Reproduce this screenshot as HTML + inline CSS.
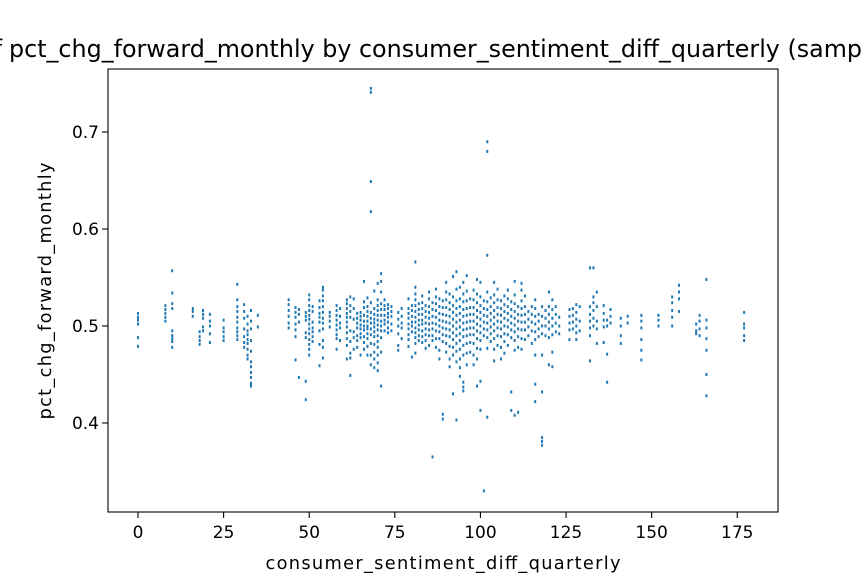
<!DOCTYPE html>
<html><head><meta charset="utf-8">
<style>
html,body{margin:0;padding:0;background:#fff;}
svg{display:block;font-family:"DejaVu Sans","Liberation Sans",sans-serif;}
</style></head>
<body>
<svg id="chart" width="864" height="576" viewBox="0 0 864 576">
<rect width="864" height="576" fill="#fff"/>
<g>
<text x="2" y="57" font-size="23.8" text-anchor="end" fill="#000">Scatter plot of</text>
<text x="9" y="57" font-size="23.8" text-anchor="start" fill="#000">pct_chg_forward_monthly by consumer_sentiment_diff_quarterly (sample)</text>
</g>
<g id="marks"></g>
<rect x="108" y="69" width="670" height="443" fill="none" stroke="#000" stroke-width="1.1"/>
<g id="xaxis"></g>
<g id="yaxis"></g>
<text x="443" y="569" font-size="17.8" text-anchor="middle" textLength="355">consumer_sentiment_diff_quarterly</text>
<text x="0" y="0" font-size="17.8" text-anchor="middle" textLength="257" transform="translate(51,291) rotate(-90)">pct_chg_forward_monthly</text>
</svg>
<script>
const xTicks = [0,25,50,75,100,125,150,175];
const yTicks = [0.4,0.5,0.6,0.7];
const yTickLabels = ["0.4","0.5","0.6","0.7"];
const groupX = [0,8,10,16,18,19,21,25,29,31,32,33,35,44,46,47,49,50,51,53,54,56,58,59,61,62,63,64,65,66,67,68,69,70,71,72,73,74,76,77,79,80,81,82,83,84,85,86,87,88,89,90,91,92,93,94,95,96,97,98,99,100,101,102,103,104,105,106,107,108,109,110,111,112,113,114,115,116,117,118,119,120,121,122,123,126,127,128,129,132,133,134,136,137,138,141,143,147,152,156,158,163,164,166,177];
const groupY = [
[.513,.509,.506,.502,.488,.479],
[.521,.517,.513,.509,.505],
[.557,.534,.523,.518,.495,.490,.487,.484,.478],
[.518,.515,.510],
[.494,.489,.485,.481],
[.516,.512,.508,.499,.495],
[.512,.505,.500,.492,.483],
[.506,.498,.494,.489,.485],
[.543,.527,.520,.515,.509,.504,.498,.494,.490,.486],
[.522,.515,.508,.497,.489,.483,.478],
[.510,.502,.495,.491,.486,.482,.476,.470,.466],
[.516,.505,.497,.485,.474,.463,.458,.452,.447,.441,.438],
[.511,.499],
[.527,.522,.516,.510,.503,.498],
[.519,.514,.509,.502,.496,.489,.465],
[.517,.512,.504,.447],
[.514,.510,.506,.493,.488,.443,.424],
[.532,.527,.521,.516,.511,.507,.502,.497,.492,.486,.481,.476,.470],
[.520,.515,.504,.498,.494,.489,.484],
[.526,.519,.513,.509,.504,.495,.481,.459],
[.540,.537,.531,.526,.520,.514,.508,.503,.497,.485,.478,.467],
[.514,.510,.505,.499],
[.521,.516,.511,.506,.501,.496,.491,.487,.476],
[.518,.510,.503,.498,.485],
[.527,.523,.518,.513,.509,.504,.499,.493,.487,.480,.466],
[.530,.521,.515,.509,.495,.484,.472,.467,.449],
[.528,.518,.507,.494,.488,.476],
[.513,.508,.503,.498,.490,.485,.478],
[.514,.510,.506,.501,.497,.492,.488,.470],
[.546,.525,.519,.511,.505,.500,.496,.489,.483,.476],
[.529,.520,.515,.510,.505,.500,.497,.492,.487,.479,.470],
[.745,.741,.649,.618,.524,.514,.508,.503,.497,.491,.482,.470,.460],
[.536,.518,.512,.507,.503,.499,.494,.489,.481,.473,.466,.457],
[.544,.527,.521,.516,.511,.506,.501,.496,.490,.484,.478,.470,.462,.454],
[.554,.546,.535,.523,.517,.511,.505,.500,.495,.488,.473,.438],
[.527,.521,.517,.511,.506,.502,.495],
[.522,.518,.513,.509,.504,.498,.493],
[.520,.515,.510,.502,.495],
[.514,.507,.500,.492,.480,.475],
[.518,.510,.503,.498,.487],
[.528,.518,.513,.508,.502,.497,.491,.486,.479],
[.521,.516,.510,.504,.500,.494,.468],
[.566,.540,.533,.527,.521,.515,.509,.504,.498,.493,.488,.482,.472],
[.523,.517,.512,.506,.501,.496,.490,.485],
[.531,.524,.518,.512,.506,.502,.495,.489,.483],
[.521,.515,.509,.503,.497,.491,.485,.477],
[.535,.528,.520,.514,.508,.502,.496,.490,.480],
[.524,.517,.510,.503,.497,.490,.485,.365],
[.538,.530,.523,.516,.509,.502,.495,.487,.478],
[.528,.520,.513,.506,.500,.494,.487,.475,.466],
[.526,.519,.512,.505,.498,.491,.484,.409,.404],
[.545,.535,.527,.519,.511,.504,.497,.490,.482,.473],
[.533,.524,.517,.510,.503,.496,.489,.479,.466,.458],
[.551,.530,.521,.514,.507,.500,.493,.486,.478,.470,.430],
[.556,.538,.526,.518,.511,.504,.497,.490,.482,.474,.463,.403],
[.540,.528,.520,.513,.506,.499,.492,.485,.476,.466,.457,.448],
[.545,.533,.525,.517,.510,.503,.496,.489,.480,.470,.442,.437,.433],
[.552,.536,.526,.518,.511,.504,.497,.490,.482,.472,.460],
[.528,.519,.512,.505,.498,.491,.483,.473],
[.537,.527,.519,.512,.505,.498,.491,.482,.470,.460],
[.548,.533,.524,.516,.509,.502,.495,.487,.477,.466,.438],
[.545,.530,.521,.514,.507,.500,.493,.485,.476,.443,.413],
[.526,.518,.511,.504,.497,.490,.330],
[.690,.680,.573,.535,.525,.517,.510,.503,.496,.488,.477,.406],
[.529,.520,.513,.506,.499,.492,.484],
[.545,.532,.524,.516,.509,.502,.495,.487,.476,.464],
[.538,.527,.519,.512,.505,.498,.490,.480],
[.526,.518,.511,.504,.497,.489,.478,.466],
[.531,.522,.515,.508,.500,.492,.484,.472],
[.537,.528,.520,.513,.506,.499,.491,.480],
[.525,.517,.510,.503,.496,.488,.432,.413],
[.546,.532,.523,.515,.508,.501,.494,.485,.475,.408],
[.520,.512,.505,.497,.489,.478,.411],
[.544,.537,.526,.518,.511,.504,.496,.487,.476],
[.531,.520,.512,.504,.496,.486],
[.515,.507,.499,.490],
[.520,.512,.504,.495,.482],
[.527,.518,.510,.502,.494,.486,.470,.440,.422],
[.512,.505,.497,.489],
[.520,.510,.500,.492,.470,.432,.385,.381,.377],
[.516,.508,.500,.490],
[.535,.520,.512,.504,.497,.488,.460],
[.527,.517,.508,.500,.491,.473,.458],
[.520,.512,.503,.494],
[.509,.500,.492],
[.517,.510,.503,.496,.486],
[.518,.511,.504,.497],
[.522,.514,.507,.500,.493,.486],
[.520,.505,.495],
[.560,.520,.512,.505,.498,.490,.464],
[.560,.530,.524,.516,.508,.500],
[.535,.520,.505,.497,.482],
[.521,.513,.506,.499,.483],
[.506,.500,.471,.442],
[.517,.510,.503],
[.508,.500,.490,.482],
[.510,.503],
[.511,.505,.498,.486,.475,.465],
[.511,.506,.500],
[.530,.524,.516,.509,.500],
[.542,.535,.528,.515],
[.502,.495,.492],
[.511,.505,.497,.490],
[.548,.506,.498,.487,.475,.450,.428],
[.514,.502,.498,.490,.485]
];

const NS = "http://www.w3.org/2000/svg";
const X0=108, X1=778, Y0=69, Y1=512;
const xDom=[-8.76,186.9], yDom=[0.3082,0.765];
function xScale(v){return X0+(v-xDom[0])/(xDom[1]-xDom[0])*(X1-X0);}
function yScale(v){return Y1-(v-yDom[0])/(yDom[1]-yDom[0])*(Y1-Y0);}

const marks=document.getElementById('marks');
groupX.forEach((xv,i)=>{
  groupY[i].forEach((yv,j)=>{
    const r=document.createElementNS(NS,'rect');
    r.setAttribute('x',(xScale(xv)-1).toFixed(2));
    r.setAttribute('y',(yScale(yv)-1.5).toFixed(2));
    r.setAttribute('width','2');
    r.setAttribute('height','3');
    r.setAttribute('fill','#1f77b4');
    
    
    marks.appendChild(r);
  });
});

const xa=document.getElementById('xaxis');
xTicks.forEach(t=>{
  const x=xScale(t);
  const l=document.createElementNS(NS,'line');
  l.setAttribute('x1',x);l.setAttribute('x2',x);l.setAttribute('y1',Y1);l.setAttribute('y2',Y1+6);
  l.setAttribute('stroke','#000');l.setAttribute('stroke-width','1.1');
  
  
  xa.appendChild(l);
  const tx=document.createElementNS(NS,'text');
  tx.setAttribute('x',x);tx.setAttribute('y',Y1+26);
  tx.setAttribute('font-size','17');tx.setAttribute('text-anchor','middle');
  tx.textContent=String(t);
  
  
  xa.appendChild(tx);
});
const ya=document.getElementById('yaxis');
yTicks.forEach((t,i)=>{
  const y=yScale(t);
  const l=document.createElementNS(NS,'line');
  l.setAttribute('x1',X0-6);l.setAttribute('x2',X0);l.setAttribute('y1',y);l.setAttribute('y2',y);
  l.setAttribute('stroke','#000');l.setAttribute('stroke-width','1.1');
  
  
  ya.appendChild(l);
  const tx=document.createElementNS(NS,'text');
  tx.setAttribute('x',X0-9);tx.setAttribute('y',y+6);
  tx.setAttribute('font-size','17');tx.setAttribute('text-anchor','end');
  tx.textContent=yTickLabels[i];
  
  
  ya.appendChild(tx);
});
</script>
</body></html>
